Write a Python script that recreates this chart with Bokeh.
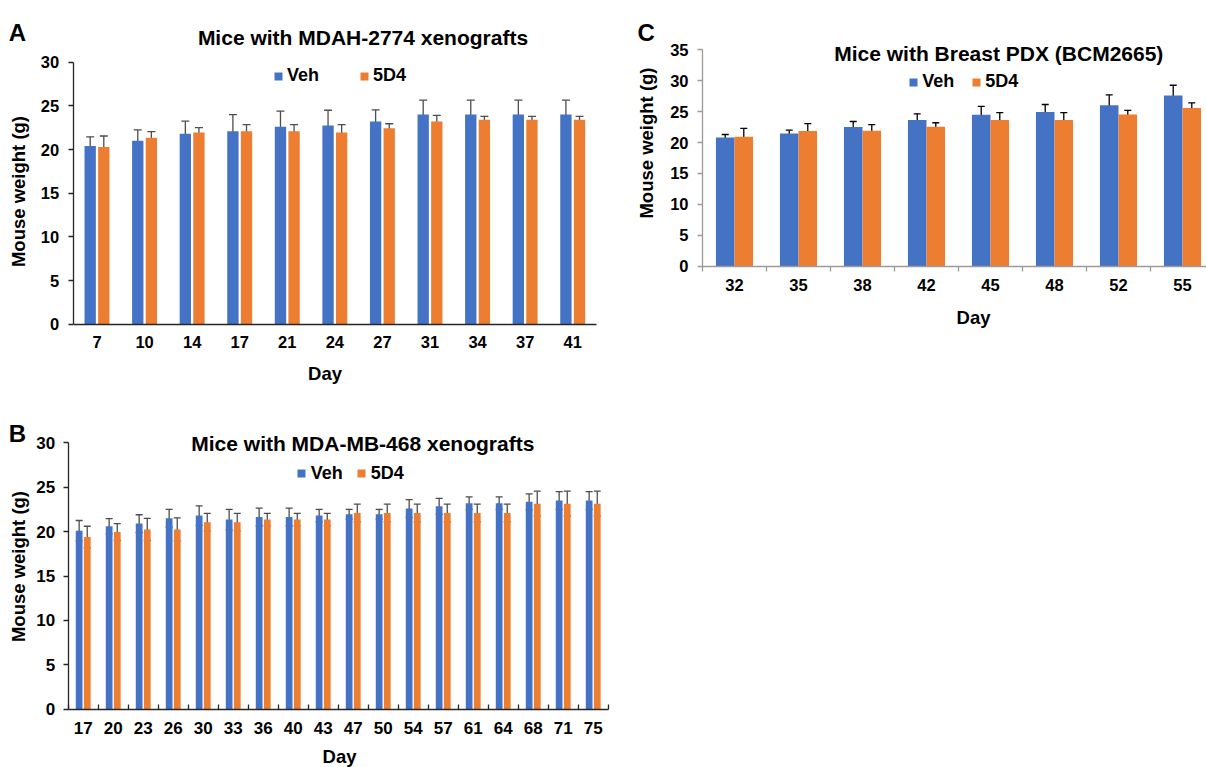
import numpy as np
from bokeh.plotting import figure
from bokeh.models import (ColumnDataSource, Range1d, FixedTicker, Whisker, TeeHead,
                          Legend, LegendItem, Label)
from bokeh.layouts import column, row
from bokeh.embed import file_html
from bokeh.resources import INLINE

# ---------------- data ----------------
A_days = [7, 10, 14, 17, 21, 24, 27, 31, 34, 37, 41]
A_veh = [20.4, 21.0, 21.8, 22.1, 22.6, 22.75, 23.2, 24.0, 24.0, 24.0, 24.0]
A_veh_err = [1.05, 1.25, 1.45, 1.9, 1.8, 1.75, 1.35, 1.65, 1.65, 1.65, 1.65]
A_5d4 = [20.3, 21.35, 21.95, 22.1, 22.1, 21.95, 22.45, 23.2, 23.4, 23.4, 23.4]
A_5d4_err = [1.25, 0.7, 0.55, 0.75, 0.75, 0.9, 0.5, 0.7, 0.4, 0.4, 0.4]

B_days = [17, 20, 23, 26, 30, 33, 36, 40, 43, 47, 50, 54, 57, 61, 64, 68, 71, 75]
B_veh = [20.1, 20.6, 20.9, 21.5, 21.8, 21.35, 21.65, 21.65, 21.8, 21.95, 21.95,
         22.6, 22.85, 23.2, 23.2, 23.35, 23.5, 23.5]
B_veh_err = [1.15, 0.85, 1.0, 1.0, 1.1, 1.15, 1.0, 1.0, 0.7, 0.55, 0.55,
             1.0, 0.9, 0.7, 0.7, 0.9, 1.0, 1.0]
B_5d4 = [19.4, 19.95, 20.25, 20.25, 21.05, 21.05, 21.35, 21.35, 21.35, 22.1, 22.1,
         22.1, 22.1, 22.1, 22.1, 23.15, 23.15, 23.15]
B_5d4_err = [1.2, 0.95, 1.25, 1.3, 1.0, 1.0, 0.7, 0.7, 0.7, 1.0, 1.0,
             1.0, 1.0, 1.0, 1.0, 1.4, 1.4, 1.4]

C_days = [32, 35, 38, 42, 45, 48, 52, 55]
C_veh = [20.8, 21.45, 22.5, 23.65, 24.5, 24.95, 26.05, 27.6]
C_veh_err = [0.5, 0.55, 0.9, 1.0, 1.35, 1.2, 1.65, 1.67]
C_5d4 = [20.95, 21.85, 21.9, 22.55, 23.65, 23.65, 24.55, 25.6]
C_5d4_err = [1.35, 1.2, 1.0, 0.65, 1.2, 1.2, 0.65, 0.8]

series_names = ["Veh", "5D4"]
BLUE = "#4472C4"
ORANGE = "#ED7D31"
FONT = "Liberation Sans"


def make_panel(letter, title, days, veh, veh_err, d4, d4_err, g):
    n = len(days)
    ox, oy = g["origin"]
    w, h = g["size"]
    l, t, r, b = g["area"]          # plot area inside the figure (pixels)
    cpx = g["cat_px"]
    ppu = (b - t) / g["ymax"]
    # the frame is the whole figure; ranges chosen so that the plot area maps to (l,t,r,b)
    xs = -0.5 - l / cpx
    xe = -0.5 + (w - l) / cpx
    ys = -(h - b) / ppu
    ye = g["ymax"] + t / ppu

    p = figure(width=w, height=h, x_range=Range1d(xs, xe), y_range=Range1d(ys, ye),
               output_backend="svg", toolbar_location=None, tools="",
               min_border=0, min_border_left=0, min_border_right=0,
               min_border_top=0, min_border_bottom=0)
    p.outline_line_color = None
    p.xgrid.visible = False
    p.ygrid.visible = False
    p.background_fill_color = "white"
    p.border_fill_color = "white"

    idx = np.arange(n)
    off, bw = g["offset"], g["bar_w"]
    src = ColumnDataSource(dict(
        xv=idx - off, xd=idx + off,
        veh=veh, d4=d4,
        veh_lo=np.array(veh) - np.array(veh_err), veh_hi=np.array(veh) + np.array(veh_err),
        d4_lo=np.array(d4) - np.array(d4_err), d4_hi=np.array(d4) + np.array(d4_err),
    ))
    r1 = p.vbar(x="xv", top="veh", width=bw, bottom=0, source=src,
                fill_color=BLUE, line_color=None)
    r2 = p.vbar(x="xd", top="d4", width=bw, bottom=0, source=src,
                fill_color=ORANGE, line_color=None)
    ec = g["err_color"]
    for base, lo, hi in (("xv", "veh_lo", "veh_hi"), ("xd", "d4_lo", "d4_hi")):
        p.add_layout(Whisker(base=base, lower=lo, upper=hi, source=src, dimension="height",
                             line_color=ec, line_width=1.3,
                             upper_head=TeeHead(size=g["cap"], line_color=ec, line_width=1.3),
                             lower_head=TeeHead(size=g["cap"], line_color=ec, line_width=1.3)))

    # axes (drawn inside the frame at fixed data locations)
    ac = g["axis_color"]
    xa = p.xaxis[0]
    xa.fixed_location = 0
    xa.bounds = (-0.5, n - 0.5)
    xa.ticker = FixedTicker(ticks=list(range(n)),
                            minor_ticks=[i - 0.5 for i in range(n + 1)])
    xa.major_label_overrides = {i: str(d) for i, d in enumerate(days)}
    xa.major_tick_line_color = None
    xa.major_tick_out = 0
    xa.major_tick_in = 0
    xa.minor_tick_in = g["xtick_in"]
    xa.minor_tick_out = g["xtick_out"]
    xa.minor_tick_line_color = ac if (g["xtick_in"] or g["xtick_out"]) else None
    xa.minor_tick_line_width = 1.3
    xa.axis_line_color = ac
    xa.axis_line_width = 1.3
    xa.major_label_standoff = g["xlabel_standoff"]
    xa.major_label_text_font = FONT
    xa.major_label_text_font_style = "bold"
    xa.major_label_text_font_size = g["tick_size"]
    xa.major_label_text_color = "black"

    ya = p.yaxis[0]
    ya.fixed_location = -0.5
    ya.bounds = (0, g["ymax"])
    ya.ticker = FixedTicker(ticks=list(range(0, g["ymax"] + 1, 5)), minor_ticks=[])
    ya.major_tick_out = 5
    ya.major_tick_in = 0
    ya.major_tick_line_color = ac
    ya.major_tick_line_width = 1.3
    ya.minor_tick_line_color = None
    ya.axis_line_color = ac
    ya.axis_line_width = 1.3
    ya.major_label_standoff = g["ylabel_standoff"]
    ya.major_label_text_font = FONT
    ya.major_label_text_font_style = "bold"
    ya.major_label_text_font_size = g["tick_size"]
    ya.major_label_text_color = "black"

    def to_data(px, py):
        x = xs + (px - ox) / w * (xe - xs)
        y = ye - (py - oy) / h * (ye - ys)
        return x, y

    def lab(text, px, py, size, align="center", baseline="alphabetic", angle=0.0):
        x, y = to_data(px, py)
        p.add_layout(Label(x=x, y=y, text=text, text_font=FONT, text_font_style="bold",
                           text_font_size=size, text_align=align, text_baseline=baseline,
                           text_color="black", angle=angle))

    lab(letter, *g["letter"], "24px", align="left")
    lab(title, *g["title"], "21px")
    lab("Day", *g["day"], "18.5px")
    lab("Mouse weight (g)", *g["ytitle"], "18.5px", baseline="middle", angle=np.pi / 2)

    # legend
    sqx, sqcy = g["legend_sq"]
    vx = sqx - ox
    vy = (oy + h) - (sqcy + 10) - 2
    leg = Legend(items=[LegendItem(label=series_names[0], renderers=[r1]),
                        LegendItem(label=series_names[1], renderers=[r2])],
                 orientation="horizontal", location=(vx, vy),
                 glyph_width=10, glyph_height=10, label_height=10,
                 label_standoff=g["leg_standoff"], spacing=g["leg_spacing"],
                 padding=0, margin=0, border_line_color=None, background_fill_alpha=0,
                 label_text_font=FONT, label_text_font_style="bold",
                 label_text_font_size="18px", label_text_color="black")
    p.add_layout(leg, "center")
    return p


# layout geometry (page pixels); data values come only from the lists above
gA = dict(origin=(0, 0), size=(620, 392), area=(72.7, 61.7, 596, 323.7), cat_px=(596 - 72.7) / 11,
          ymax=30, offset=0.143, bar_w=0.238, cap=8, err_color="#4d4d4d",
          axis_color="#262626", xtick_in=0, xtick_out=0, xlabel_standoff=12,
          ylabel_standoff=9, tick_size="16.5px",
          letter=(8.3, 31.7), title=(362.5, 36.7), day=(324.5, 373.3), ytitle=(18, 191),
          legend_sq=(273, 74), leg_standoff=4, leg_spacing=40)
gB = dict(origin=(0, 392), size=(620, 375), area=(67.7, 50.3, 607.7, 316.7), cat_px=30,
          ymax=30, offset=0.135, bar_w=0.225, cap=7, err_color="#4d4d4d",
          axis_color="#262626", xtick_in=5, xtick_out=0, xlabel_standoff=13,
          ylabel_standoff=8, tick_size="17px",
          letter=(8.3, 433.3), title=(362.3, 443.3), day=(339, 756), ytitle=(18.3, 566),
          legend_sq=(295.7, 471.7), leg_standoff=5, leg_spacing=13)
gC = dict(origin=(620, 0), size=(586, 340), area=(82, 49.3, 594, 265.7), cat_px=64,
          ymax=35, offset=0.145, bar_w=0.29, cap=7, err_color="black",
          axis_color="#9a9a9a", xtick_in=0, xtick_out=5, xlabel_standoff=8,
          ylabel_standoff=9, tick_size="16.5px",
          letter=(637, 31.7), title=(998.3, 53.3), day=(973, 316.7), ytitle=(646, 142.5),
          legend_sq=(908.3, 80), leg_standoff=4, leg_spacing=17)

pA = make_panel("A", "Mice with MDAH-2774 xenografts", A_days, A_veh, A_veh_err, A_5d4, A_5d4_err, gA)
pB = make_panel("B", "Mice with MDA-MB-468 xenografts", B_days, B_veh, B_veh_err, B_5d4, B_5d4_err, gB)
pC = make_panel("C", "Mice with Breast PDX (BCM2665)", C_days, C_veh, C_veh_err, C_5d4, C_5d4_err, gC)

layout = column(row(pA, pC), pB)
open("out.html", "w").write(file_html(layout, INLINE))
